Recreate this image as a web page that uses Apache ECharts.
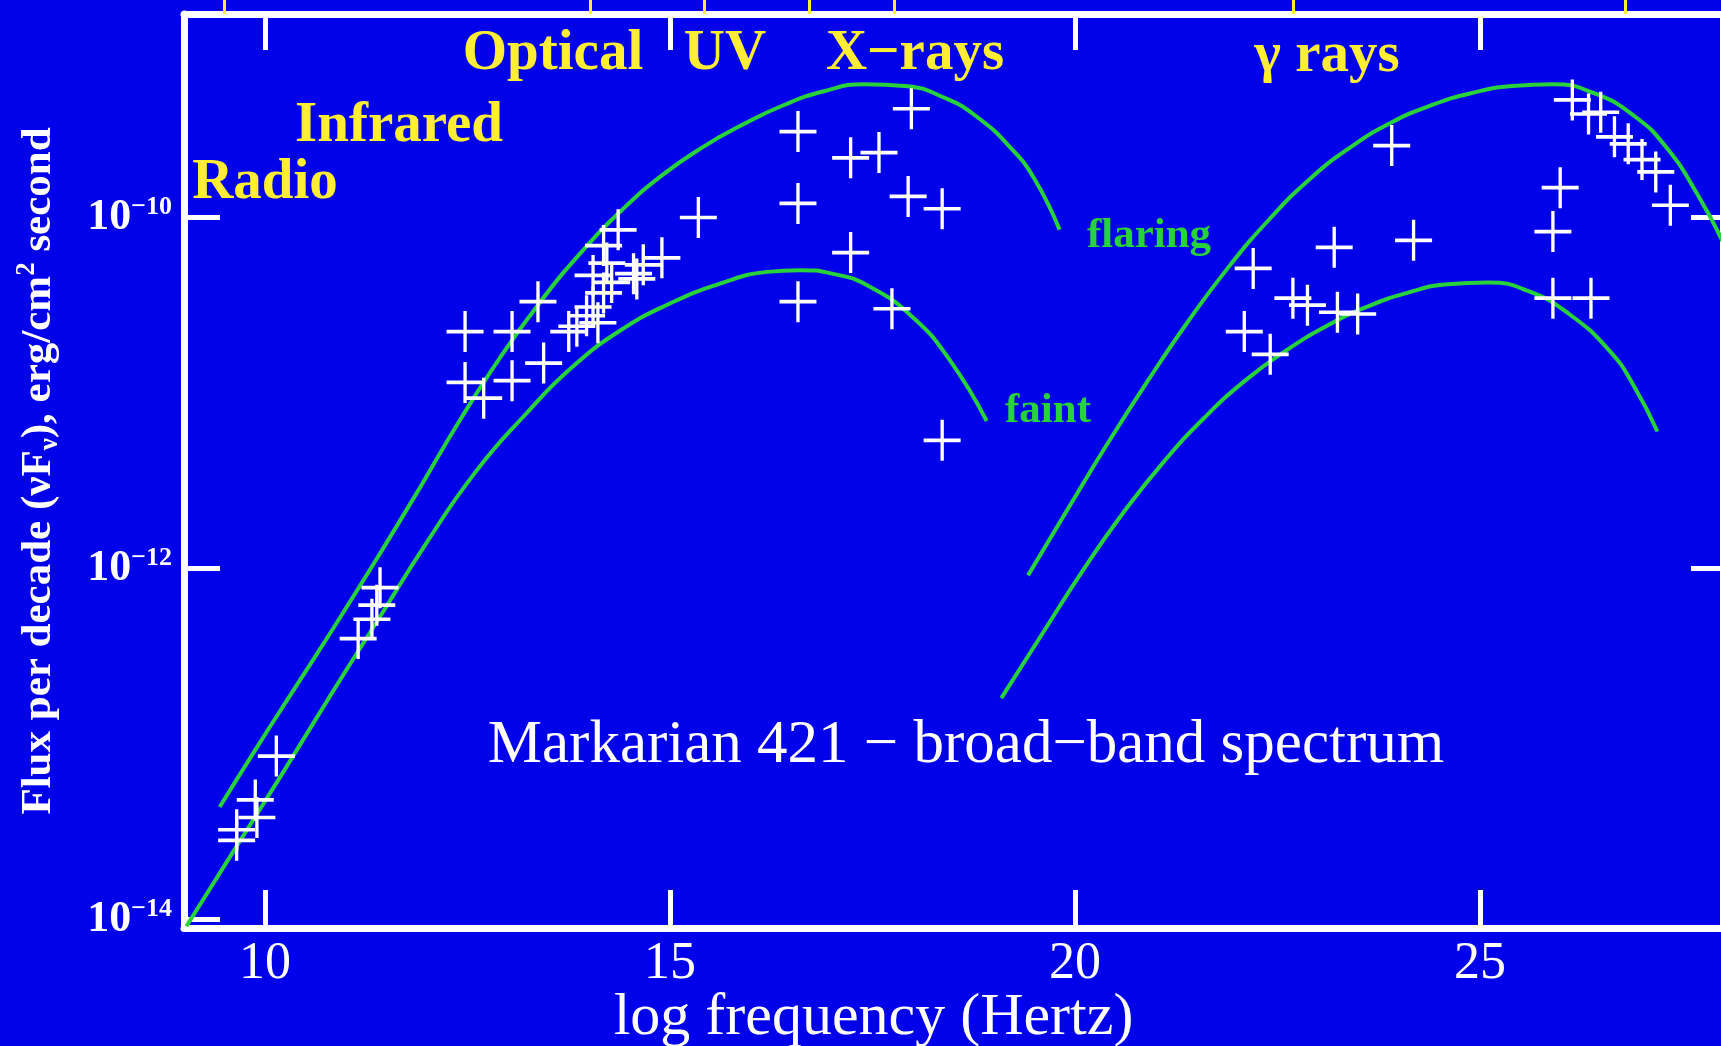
<!DOCTYPE html>
<html lang="en">

<head>
    <meta charset="UTF-8">
    <title>Markarian 421 - broad-band spectrum</title>
    <script src="https://cdn.jsdelivr.net/npm/echarts@6/dist/echarts.min.js"></script>
    <style>
        body { margin: 0; background: #0202EA; }
    </style>
</head>

<body>
    <div id="main" style="width: 1721px;height:1046px;"></div>
    <script type="text/javascript">
        // log10 frequency (Hz) / log10 flux (erg/cm2/s) of the measured points
        var crossFreq = [9.65, 9.65, 9.90, 9.88, 10.14,
            11.15, 11.32, 11.38, 11.42,
            12.47, 13.05, 13.37, 12.47, 12.70, 13.05, 13.44,
            13.75, 13.85, 13.97, 14.05, 14.11, 14.18, 14.28, 14.05, 14.22, 14.18, 14.36, 14.55, 14.59, 14.67, 14.90,
            15.35, 16.58, 16.58, 16.58, 17.23, 17.58, 17.94, 18.36, 17.98, 17.23, 17.74, 18.36,
            22.09, 22.41, 22.20, 22.69, 22.87, 23.24, 23.49, 23.20, 24.18, 23.91,
            25.90, 26.37, 25.90, 25.99, 26.14, 26.34, 26.49, 26.66, 26.83, 27.00, 27.17, 27.35];
        var crossFlux = [-13.55, -13.49, -13.42, -13.32, -13.07,
            -12.40, -12.29, -12.21, -12.11,
            -10.65, -10.65, -10.48, -10.94, -11.03, -10.93, -10.83,
            -10.65, -10.62, -10.56, -10.51, -10.60, -10.43, -10.37, -10.33, -10.26, -10.16, -10.07, -10.32, -10.35, -10.27, -10.23,
            -10.00, -9.51, -9.92, -10.48, -9.66, -9.63, -9.88, -9.95, -9.38, -10.20, -10.52, -11.27,
            -10.65, -10.78, -10.29, -10.46, -10.50, -10.54, -10.55, -10.17, -10.13, -9.59,
            -10.46, -10.46, -10.08, -9.83, -9.33, -9.41, -9.40, -9.54, -9.58, -9.67, -9.74, -9.93];

        // model curves as [log freq, log flux]
        var syncFlaring = [[9.44, -13.36], [9.9, -13.02], [10.4, -12.66], [10.9, -12.30], [11.4, -11.93],
            [11.9, -11.55], [12.4, -11.16], [12.9, -10.80], [13.4, -10.48], [13.9, -10.20], [14.4, -9.96],
            [14.9, -9.76], [15.4, -9.60], [15.9, -9.47], [16.4, -9.36], [16.9, -9.28], [17.4, -9.24],
            [17.9, -9.25], [18.4, -9.32], [18.8, -9.43], [19.2, -9.60], [19.5, -9.78], [19.81, -10.07]];
        var syncFaint = [[9.03, -14.04], [9.6, -13.62], [10.2, -13.18], [10.8, -12.73], [11.4, -12.29],
            [12.0, -11.85], [12.6, -11.45], [13.2, -11.13], [13.8, -10.85], [14.4, -10.64], [15.0, -10.49],
            [15.6, -10.38], [16.2, -10.31], [16.6, -10.30], [17.0, -10.32], [17.45, -10.39], [18.0, -10.57],
            [18.45, -10.81], [18.91, -11.16]];
        var icFlaring = [[19.42, -12.04], [19.9, -11.67], [20.4, -11.29], [20.9, -10.93], [21.4, -10.59],
            [21.9, -10.28], [22.4, -10.01], [22.9, -9.78], [23.4, -9.60], [23.9, -9.46], [24.4, -9.36],
            [24.9, -9.29], [25.4, -9.25], [25.9, -9.24], [26.4, -9.29], [26.9, -9.42], [27.3, -9.60],
            [27.7, -9.88], [28.0, -10.14]];
        var icFaint = [[19.09, -12.74], [19.6, -12.37], [20.1, -12.01], [20.6, -11.68], [21.1, -11.39],
            [21.6, -11.14], [22.1, -10.93], [22.6, -10.76], [23.1, -10.62], [23.6, -10.51], [24.1, -10.43],
            [24.6, -10.38], [25.1, -10.37], [25.6, -10.42], [26.1, -10.55], [26.6, -10.76], [26.9, -10.96],
            [27.19, -11.22]];

        var xTicks = [10, 15, 20, 25];
        var yTicks = [-14, -12, -10];
        var rightTicks = [-12, -10];
        // band boundaries marked on the top edge
        var bandEdges = [9.50, 14.02, 15.42, 16.72, 17.77, 22.70, 26.79];

        var blue = '#0202EA';
        var green = '#27D23A';
        var yellow = '#FFEE33';
        var serif = '"Liberation Serif", "Times New Roman", serif';

        var crosses = crossFreq.map(function (f, i) { return [f, crossFlux[i]]; });

        var myChart = echarts.init(document.getElementById('main'));

        function curve(data) {
            return {
                type: 'line',
                data: data,
                smooth: true,
                showSymbol: false,
                silent: true,
                lineStyle: { color: green, width: 4 },
                z: 2
            };
        }

        var whiteLine = { show: true, onZero: false, lineStyle: { color: '#fff', width: 7 } };

        myChart.setOption({
            backgroundColor: blue,
            animation: false,
            grid: { left: 184, top: 14, width: 1539, height: 914, containLabel: false, outerBoundsMode: 'none' },
            xAxis: [{
                type: 'value', position: 'bottom', min: 9, max: 28,
                axisLine: whiteLine,
                axisTick: { inside: true, length: 38, customValues: xTicks, lineStyle: { color: '#fff', width: 5 } },
                axisLabel: { customValues: xTicks, color: '#fff', fontSize: 52, fontFamily: serif, margin: 10 },
                splitLine: { show: false },
                name: 'log frequency (Hertz)',
                nameLocation: 'middle',
                nameGap: 60,
                nameMoveOverlap: false,
                nameTextStyle: { color: '#fff', fontSize: 60, fontFamily: serif, padding: [0, 160, 0, 0] }
            }, {
                type: 'value', position: 'top', min: 9, max: 28,
                axisLine: whiteLine,
                axisTick: { inside: true, length: 36, customValues: xTicks, lineStyle: { color: '#fff', width: 5 } },
                axisLabel: { show: false },
                splitLine: { show: false }
            }, {
                type: 'value', position: 'top', min: 9, max: 28,
                axisLine: { show: false },
                axisTick: { inside: false, length: 14, customValues: bandEdges, lineStyle: { color: yellow, width: 3 } },
                axisLabel: { show: false },
                splitLine: { show: false }
            }],
            yAxis: [{
                type: 'value', position: 'left', min: -14.05, max: -8.84,
                axisLine: whiteLine,
                axisTick: { inside: true, length: 36, customValues: yTicks, lineStyle: { color: '#fff', width: 5 } },
                axisLabel: {
                    customValues: yTicks,
                    margin: 12,
                    formatter: function (v) { return '{b|10}{e|\u2212' + Math.abs(v) + '}'; },
                    rich: {
                        b: { color: '#fff', fontSize: 44, fontWeight: 'bold', fontFamily: serif, lineHeight: 46 },
                        e: { color: '#fff', fontSize: 26, fontWeight: 'bold', fontFamily: serif, verticalAlign: 'top', lineHeight: 30 }
                    }
                },
                splitLine: { show: false },
                name: 'Flux per decade (\u03bdF{sub|\u03bd}), erg/cm{sup|2} second',
                nameLocation: 'middle',
                nameRotate: 90,
                nameGap: 120,
                nameMoveOverlap: false,
                nameTextStyle: {
                    color: '#fff', fontSize: 43, fontWeight: 'bold', fontFamily: serif, lineHeight: 50,
                    rich: {
                        sub: { color: '#fff', fontSize: 27, fontWeight: 'bold', fontFamily: serif, verticalAlign: 'bottom', lineHeight: 30 },
                        sup: { color: '#fff', fontSize: 27, fontWeight: 'bold', fontFamily: serif, verticalAlign: 'top', lineHeight: 30 }
                    }
                }
            }, {
                type: 'value', position: 'right', min: -14.05, max: -8.84,
                axisLine: whiteLine,
                axisTick: { inside: true, length: 32, customValues: rightTicks, lineStyle: { color: '#fff', width: 5 } },
                axisLabel: { show: false },
                splitLine: { show: false }
            }],
            series: [
                curve(syncFlaring),
                curve(syncFaint),
                curve(icFlaring),
                curve(icFaint),
                {
                    type: 'scatter',
                    data: crosses,
                    symbol: 'path://M18.2,0h3.6v18.2h18.2v3.6h-18.2v18.2h-3.6v-18.2h-18.2v-3.6h18.2z',
                    symbolSize: [37, 41],
                    itemStyle: { color: '#fff', opacity: 1 },
                    silent: true,
                    z: 3
                }
            ],
            graphic: [
                { type: 'text', x: 553, y: 54, z: 100, style: { text: 'Optical', fill: yellow, font: 'bold 57px ' + serif, align: 'center', verticalAlign: 'middle' } },
                { type: 'text', x: 725, y: 54, z: 100, style: { text: 'UV', fill: yellow, font: 'bold 57px ' + serif, align: 'center', verticalAlign: 'middle' } },
                { type: 'text', x: 915, y: 54, z: 100, style: { text: 'X\u2212rays', fill: yellow, font: 'bold 57px ' + serif, align: 'center', verticalAlign: 'middle' } },
                { type: 'text', x: 1327, y: 56, z: 100, style: { text: '\u03b3 rays', fill: yellow, font: 'bold 57px ' + serif, align: 'center', verticalAlign: 'middle' } },
                { type: 'text', x: 399, y: 126, z: 100, style: { text: 'Infrared', fill: yellow, font: 'bold 57px ' + serif, align: 'center', verticalAlign: 'middle' } },
                { type: 'text', x: 265, y: 183, z: 100, style: { text: 'Radio', fill: yellow, font: 'bold 57px ' + serif, align: 'center', verticalAlign: 'middle' } },
                { type: 'text', x: 1149, y: 236, z: 100, style: { text: 'flaring', fill: green, font: 'bold 43px ' + serif, align: 'center', verticalAlign: 'middle' } },
                { type: 'text', x: 1048, y: 411, z: 100, style: { text: 'faint', fill: green, font: 'bold 43px ' + serif, align: 'center', verticalAlign: 'middle' } },
                { type: 'text', x: 966, y: 746, z: 100, style: { text: 'Markarian 421 \u2212 broad\u2212band spectrum', fill: '#fff', font: '61px ' + serif, align: 'center', verticalAlign: 'middle' } }
            ]
        });
    </script>
</body>

</html>
